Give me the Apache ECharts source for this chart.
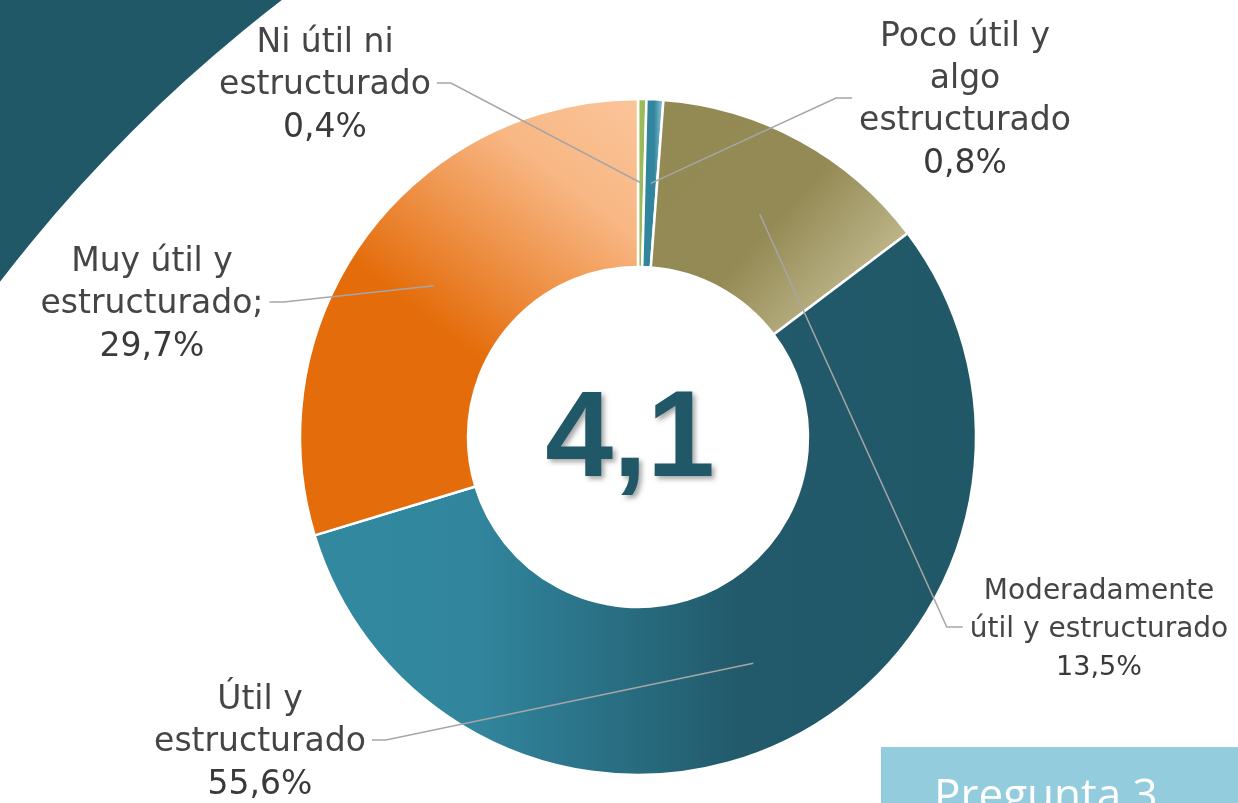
<!DOCTYPE html>
<html>
<head>
<meta charset="utf-8">
<script src="https://cdn.jsdelivr.net/npm/echarts@6/dist/echarts.min.js"></script>
<style>
html, body { margin: 0; padding: 0; background: #fff; }
#chart { width: 1238px; height: 803px; }
</style>
</head>
<body>
<div id="chart"></div>
<script>
// data
const categories = [
    'Ni útil ni\nestructurado',
    'Poco útil y\nalgo\nestructurado',
    'Moderadamente\nútil y estructurado',
    'Útil y\nestructurado',
    'Muy útil y\nestructurado;'
];
const values = [0.4, 0.8, 13.5, 55.6, 29.7];
const centerValue = '4,1';
const badgeText = 'Pregunta 3';

// layout of the donut and the labels
const CX = 638, CY = 437, R0 = 170, R1 = 338;
const labelSpec = [
    { x: 325, y: 86, side: 'right', small: false },
    { x: 965, y: 101, side: 'left', small: false },
    { x: 1099, y: 630, side: 'left', small: true },
    { x: 260, y: 743, side: 'right', small: false },
    { x: 152, y: 305, side: 'right', small: false }
];

const G = echarts.graphic.LinearGradient;
const sliceColors = [
    '#9bbb59',
    new G(0, 0, 1, 0, [{ offset: 0, color: '#31859c' }, { offset: 0.55, color: '#31859c' }, { offset: 1, color: '#9fd3e2' }]),
    new G(0, 0, 1, 1, [{ offset: 0, color: '#938953' }, { offset: 0.5, color: '#948a55' }, { offset: 1, color: '#d8d0aa' }]),
    new G(0, 0, 1, 0, [{ offset: 0, color: '#32899f' }, { offset: 0.24, color: '#31869e' }, { offset: 0.64, color: '#225a6b' }, { offset: 1, color: '#215868' }]),
    new G(1, 0, 0, 1, [{ offset: 0, color: '#fbc59a' }, { offset: 0.2, color: '#f8b784' }, { offset: 0.55, color: '#e46c0a' }, { offset: 1, color: '#e46c0a' }])
];

const total = values.reduce((a, b) => a + b, 0);
const fmt = v => v.toFixed(1).replace('.', ',') + '%';

function midRing(i) {
    let cum = 0;
    for (let k = 0; k < i; k++) cum += values[k];
    const t = (cum + values[i] / 2) / total * Math.PI * 2;
    const rm = (R0 + R1) / 2;
    return [CX + rm * Math.sin(t), CY - rm * Math.cos(t)];
}

const chart = echarts.init(document.getElementById('chart'));

const pieBase = {
    type: 'pie',
    center: [CX, CY],
    radius: [R0, R1],
    startAngle: 90,
    clockwise: true,
    avoidLabelOverlap: false,
    emphasis: { disabled: true }
};

const option = {
    backgroundColor: '#fff',
    animation: false,
    graphic: [
        {
            type: 'ring',
            shape: { cx: 1210, cy: 1210, r: 1950, r0: 1525 },
            style: { fill: '#215868' },
            silent: true
        },
        {
            type: 'rect',
            shape: { x: 881, y: 747, width: 400, height: 80 },
            style: { fill: '#93cddd' }
        },
        {
            type: 'text',
            x: 934, y: 797,
            style: {
                text: badgeText, fill: '#fff', font: '44px "Open Sans"',
                textAlign: 'left', textVerticalAlign: 'middle'
            }
        },
        {
            type: 'text',
            x: 630, y: 442, z: 10,
            style: {
                text: centerValue, fill: '#215868', font: 'bold 122px "Liberation Sans"',
                textAlign: 'center', textVerticalAlign: 'middle',
                textShadowColor: 'rgba(0,0,0,0.35)', textShadowBlur: 5,
                textShadowOffsetX: 3, textShadowOffsetY: 3
            }
        }
    ],
    series: [
        Object.assign({}, pieBase, {
            z: 2,
            itemStyle: { borderColor: '#fff', borderWidth: 2.5 },
            label: { show: false },
            labelLine: { show: false },
            data: categories.map((name, i) => ({
                name: name,
                value: values[i],
                itemStyle: { color: sliceColors[i] }
            }))
        }),
        // transparent copy on top, carries the labels and leader lines
        Object.assign({}, pieBase, {
            z: 5,
            silent: true,
            itemStyle: { color: 'rgba(0,0,0,0)', borderWidth: 0 },
            label: {
                show: true,
                position: 'outside',
                formatter: p => labelSpec[p.dataIndex].small
                    ? `{ns|${p.name}}\n{vs|${fmt(p.value)}}`
                    : `{n|${p.name}}\n{v|${fmt(p.value)}}`,
                rich: {
                    n: { fontFamily: 'DejaVu Sans', fontSize: 33, lineHeight: 42, color: '#454545', align: 'center' },
                    v: { fontFamily: 'DejaVu Sans', fontSize: 33, lineHeight: 44, color: '#3a3a3a', align: 'center' },
                    ns: { fontFamily: 'DejaVu Sans', fontSize: 28, lineHeight: 38, color: '#454545', align: 'center' },
                    vs: { fontFamily: 'DejaVu Sans', fontSize: 27, lineHeight: 38, color: '#3a3a3a', align: 'center' }
                }
            },
            labelLine: {
                show: true,
                length: 10,
                length2: 10,
                lineStyle: { color: '#a6a6a6', width: 1.5 }
            },
            labelLayout: function (params) {
                const i = params.dataIndex;
                const s = labelSpec[i];
                const w = params.labelRect.width;
                const edge = s.side === 'right' ? s.x + w / 2 + 6 : s.x - w / 2 - 7;
                const knee = s.side === 'right' ? edge + 14 : edge - 16;
                const ly = s.y - 3;
                return {
                    x: s.x,
                    y: s.y,
                    align: 'center',
                    verticalAlign: 'middle',
                    labelLinePoints: [midRing(i), [knee, ly], [edge, ly]]
                };
            },
            data: categories.map((name, i) => ({ name: name, value: values[i] }))
        })
    ]
};

chart.setOption(option);
window.addEventListener('resize', () => chart.resize());
</script>
</body>
</html>
